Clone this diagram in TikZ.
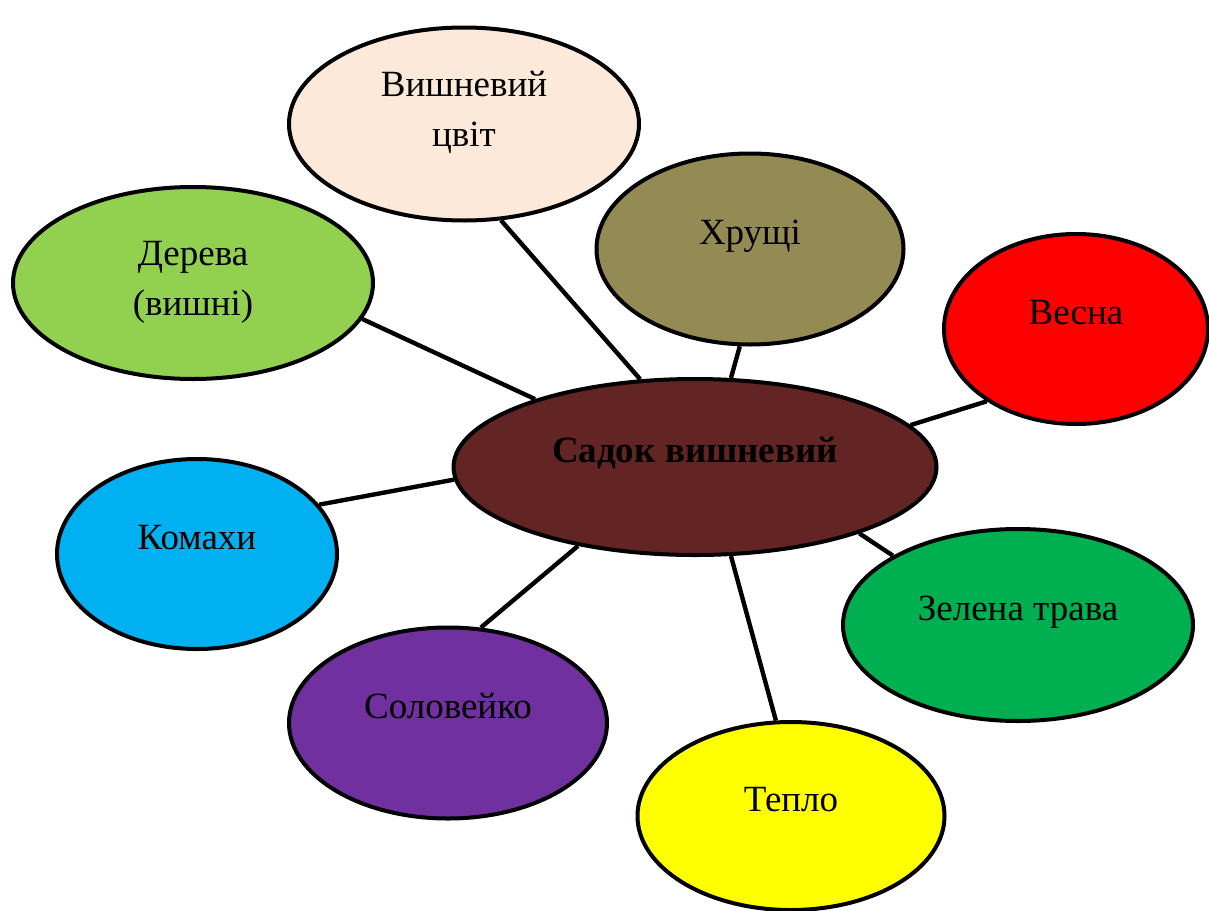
\documentclass[tikz,border=0pt]{standalone}
\usepackage{fontspec}
\setmainfont{Liberation Serif}
\usepackage{tikz}
\usetikzlibrary{shapes.geometric, backgrounds}
\definecolor{BlossomPeach}{HTML}{FDE9D9}
\definecolor{LeafGreen}{HTML}{92D050}
\definecolor{BeetleOlive}{HTML}{948A54}
\definecolor{SpringRed}{HTML}{FF0000}
\definecolor{CherryBrown}{HTML}{632523}
\definecolor{InsectBlue}{HTML}{00B0F0}
\definecolor{GrassGreen}{HTML}{00B050}
\definecolor{BirdPurple}{HTML}{7030A0}
\definecolor{WarmYellow}{HTML}{FFFF00}
\newcommand{\lifted}[2][48pt]{\raisebox{#1}{\begin{tabular}{@{}c@{}}#2\end{tabular}}}
\tikzset{
  % Bubble styles
  bubble/.style={ellipse, draw=black, line width=4pt, inner sep=0pt, font=\fontsize{37}{50}\selectfont, align=center},
  hubbubble/.style={bubble, font=\fontsize{37}{50}\selectfont\bfseries},
  % Line styles
  spoke/.style={line width=4.4pt, black}
}
\begin{document}
\begin{tikzpicture}[x=1pt, y=-1pt]
  \useasboundingbox (0,0) rectangle (1209,910);
  % Centre
  \node[hubbubble, fill=CherryBrown, minimum width=483pt, minimum height=176pt] (garden) at (695,467) {\lifted{Садок вишневий}};
  % Outer bubbles
  \node[bubble, fill=BlossomPeach, minimum width=350pt, minimum height=193pt] (blossom) at (464,124) {\lifted[68pt]{Вишневий\\цвіт}};
  \node[bubble, fill=LeafGreen, minimum width=360pt, minimum height=192pt] (trees) at (193,283) {\lifted{Дерева\\(вишні)}};
  \node[bubble, fill=BeetleOlive, minimum width=307pt, minimum height=191pt] (beetles) at (750,249) {\lifted{Хрущі}};
  \node[bubble, fill=SpringRed, minimum width=264pt, minimum height=190pt] (spring) at (1076,329) {\lifted{Весна}};
  \node[bubble, fill=InsectBlue, minimum width=280pt, minimum height=190pt] (insects) at (197,554) {\lifted{Комахи}};
  \node[bubble, fill=GrassGreen, minimum width=350pt, minimum height=192pt] (grass) at (1018,625) {\lifted{Зелена трава}};
  \node[bubble, fill=BirdPurple, minimum width=318pt, minimum height=191pt] (nightingale) at (448,723) {\lifted{Соловейко}};
  \node[bubble, fill=WarmYellow, minimum width=307pt, minimum height=188pt] (warmth) at (791,816) {\lifted{Тепло}};
  % Spokes
  \begin{scope}[on background layer]
    \draw[spoke] (blossom.-69) -- (garden.122);
    \draw[spoke] (trees.-12) -- (garden.157);
    \draw[spoke] (beetles.-96) -- (garden.68);
    \draw[spoke] (spring.219) -- (garden.11);
    \draw[spoke] (insects.22) -- (garden.183);
    \draw[spoke] (grass.151) -- (garden.-22);
    \draw[spoke] (nightingale.71) -- (garden.214);
    \draw[spoke] (warmth.99) -- (garden.-68);
  \end{scope}
\end{tikzpicture}
\end{document}
